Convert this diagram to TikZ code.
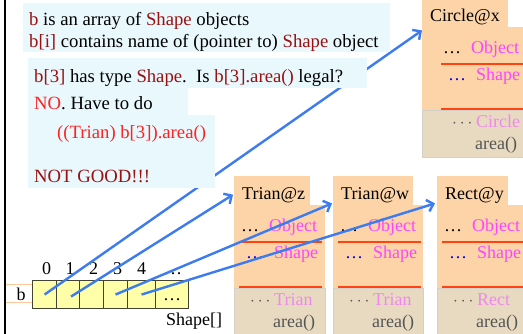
\documentclass[tikz,border=0pt]{standalone}
\usepackage{fontspec}
\setmainfont{Liberation Serif}
\usetikzlibrary{arrows.meta,calc}
\definecolor{dred}{HTML}{991111}
\definecolor{bred}{HTML}{FF2222}
\definecolor{mag}{HTML}{FF44FF}
\definecolor{vio}{HTML}{EE88EE}
\definecolor{grtxt}{HTML}{555555}
\definecolor{objor}{HTML}{FDD4A8}
\definecolor{objbg}{HTML}{E8DAC0}
\definecolor{objbgline}{HTML}{D4D0C8}
\definecolor{cyanbg}{HTML}{E8F8FD}
\definecolor{cellfill}{HTML}{FFFFAA}
\definecolor{cellline}{HTML}{444433}
\definecolor{rulered}{HTML}{FF4411}
\definecolor{ptrblue}{HTML}{3D7BF0}
\definecolor{varline}{HTML}{FFC89A}
\tikzset{
  txt/.style={anchor=base west, inner sep=0pt},
  btxt/.style={anchor=base west, inner sep=0pt, font=\fontsize{18.7}{21}\selectfont},
  ctxt/.style={anchor=base, inner sep=0pt},
  hdrbox/.style={anchor=north west, fill=objor, minimum height=29pt, inner sep=0pt},
  cell/.style={draw=cellline, fill=cellfill, line width=1.1pt, minimum height=28pt, inner sep=0pt, anchor=north west},
  ptr/.style={draw=ptrblue, line width=2.4pt, -{Straight Barb[length=6pt,width=12pt]}},
  redrule/.style={draw=rulered, line width=1.5pt},
}
% #1 name, #2 L, #3 T, #4 header, #5 header width, #6 body width, #7 bottom, #8 type, #9 shift
\newcommand\mkobj[9]{%
  \node[hdrbox, minimum width=#5pt] (#1h) at (#2,#3) {};
  \node[txt] (#1t) at ($(#1h.north west)+(8,23)$) {#4};
  \fill[objor] (#2,#3+29) rectangle (#2+#6,#3+112);
  \filldraw[fill=objbg, draw=objbgline, line width=0.6pt] (#2,#3+112) rectangle (#2+#6,#7);
  \draw[redrule] (#2+5+#9,#3+66) -- (#2+88+#9,#3+66);
  \draw[redrule] (#2+5+#9,#3+111) -- (#2+88+#9,#3+111);
  \node[txt] at (#2+7+#9,#3+55) {\ldots};
  \node[txt, text=mag] at (#2+35+#9,#3+55) {Object};
  \node[txt, text=blue] at (#2+12+#9,#3+82) {\ldots};
  \node[txt, text=mag] at (#2+40+#9,#3+82) {Shape};
  \node[txt, text=grtxt] at (#2+16+#9,#3+129) {$\cdots$};
  \node[txt, text=vio] at (#2+40+#9,#3+129) {#8};
  \node[txt, text=grtxt] at (#2+39+#9,#3+151) {area()};
}
\begin{document}
\begin{tikzpicture}[x=1pt,y=-1pt,font=\fontsize{18}{21}\selectfont]
\useasboundingbox (0,0) rectangle (523,333);
\fill[white] (0,0) rectangle (523,333);
% left border
\draw[line width=2pt] (5,-1) -- (5,334);
% objects
\mkobj{cx}{422}{-2}{Circle@x}{86}{104}{157}{Circle}{14}
\mkobj{tz}{234}{176}{Trian@z}{76}{91}{336}{Trian}{0}
\mkobj{tw}{333}{176}{Trian@w}{80}{90}{336}{Trian}{0}
\mkobj{ry}{437}{176}{Rect@y}{71}{92}{336}{Rect}{0}
% array variable b
\draw[varline, line width=0.8pt] (6,284) -- (32,284);
\draw[varline, line width=0.8pt] (6,302) -- (32,302);
\node[ctxt] (bname) at (21,300) {b};
\node[cell, minimum width=24pt] (c0) at (32,280) {};
\node[cell, minimum width=23pt] (c1) at (56,280) {};
\node[cell, minimum width=24pt] (c2) at (79,280) {};
\node[cell, minimum width=24pt] (c3) at (103,280) {};
\node[cell, minimum width=28pt] (c4) at (127,280) {};
\node[cell, minimum width=33pt] (c5) at (155,280) {};
\node[ctxt] (i0) at ($(c0.center)+(2,-20)$) {0};
\node[ctxt] (i1) at ($(c1.center)+(2,-20)$) {1};
\node[ctxt] (i2) at ($(c2.center)+(2,-20)$) {2};
\node[ctxt] (i3) at ($(c3.center)+(2,-20)$) {3};
\node[ctxt] (i4) at ($(c4.center)+(0,-20)$) {4};
\node[ctxt] (i5) at ($(c5.center)+(1,-20)$) {\ldots};
\node[ctxt] (cdots) at ($(c5.center)+(0,6)$) {\ldots};
\node[txt] (stype) at (166,325) {Shape[]};
% pointers
\coordinate (cxtip) at ($(cxh.south west)+(0,3)$);
\coordinate (tztip) at ($(tzh.west)+(-1,4)$);
\coordinate (twtip) at ($(twh.south west)+(-1,-2)$);
\coordinate (rytip) at ($(ryh.south west)+(-2,-2)$);
\draw[ptr] (c0.center) -- (cxtip);
\draw[ptr] ($(c1.center)+(3,2)$) -- (tztip);
\draw[ptr] (c3.center) -- (twtip);
\draw[ptr] (c4.center) -- (rytip);
% text boxes
\fill[cyanbg] (23,3) rectangle (390,52);
\fill[cyanbg] (28,58) rectangle (367,88);
\fill[cyanbg] (28,88) rectangle (188,115);
\fill[cyanbg] (28,115) rectangle (215,188);
\node[btxt] (l1) at (29,25) {\textcolor{dred}{b} is an array of \textcolor{dred}{Shape} objects};
\node[btxt] (l2) at (29,47) {\textcolor{dred}{b[i]} contains name of (pointer to) \textcolor{dred}{Shape} object};
\node[btxt] (l3) at (34,82) {\textcolor{dred}{b[3]} has type \textcolor{dred}{Shape}.\ \ Is \textcolor{dred}{b[3].area()} legal?};
\node[btxt] (l4) at (34,109) {\textcolor{bred}{NO}. Have to do};
\node[btxt, text=bred] (l5) at (57,138) {((Trian) b[3]).area()};
\node[btxt, text=dred] (l6) at (34,182) {NOT GOOD!!!};
\end{tikzpicture}
\end{document}
